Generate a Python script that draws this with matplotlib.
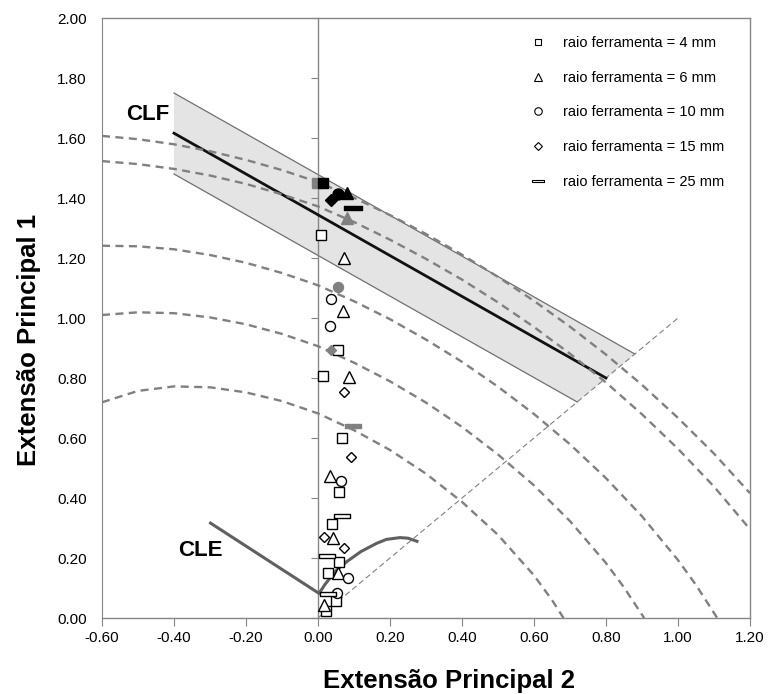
import numpy as np
import matplotlib
matplotlib.use("Agg")
import matplotlib.pyplot as plt
from matplotlib.path import Path
from matplotlib.ticker import MultipleLocator, FormatStrFormatter
from matplotlib.lines import Line2D

plt.rcParams['font.family'] = ['Liberation Sans', 'DejaVu Sans']

# --- data ---
# dashed grey iso-strain curves (e2, e1)
c1_x = [-0.6, -0.5, -0.4, -0.3, -0.2, -0.1, 0.0, 0.1, 0.2, 0.3, 0.4, 0.5, 0.6, 0.7, 0.8, 0.9, 1.0, 1.1, 1.2]
c1_y = [1.607, 1.596, 1.579, 1.556, 1.527, 1.493, 1.453, 1.401, 1.343, 1.280, 1.211, 1.137, 1.057, 0.971, 0.878, 0.777, 0.667, 0.548, 0.416]
c2_x = [-0.6, -0.5, -0.4, -0.3, -0.2, -0.1, 0.0, 0.1, 0.2, 0.3, 0.4, 0.5, 0.6, 0.7, 0.8, 0.9, 1.0, 1.1, 1.2]
c2_y = [1.523, 1.513, 1.497, 1.475, 1.447, 1.412, 1.372, 1.320, 1.261, 1.197, 1.128, 1.052, 0.970, 0.881, 0.785, 0.679, 0.564, 0.438, 0.296]
c3_x = [-0.6, -0.5, -0.4, -0.3, -0.2, -0.1, 0.0, 0.1, 0.2, 0.3, 0.4, 0.5, 0.6, 0.7, 0.8, 0.9, 1.0, 1.05, 1.109]
c3_y = [1.241, 1.239, 1.229, 1.210, 1.184, 1.150, 1.109, 1.056, 0.996, 0.928, 0.854, 0.771, 0.680, 0.579, 0.466, 0.339, 0.193, 0.110, 0.0]
c4_x = [-0.6, -0.5, -0.4, -0.3, -0.2, -0.1, 0.0, 0.1, 0.2, 0.3, 0.4, 0.5, 0.6, 0.7, 0.8, 0.85, 0.906]
c4_y = [1.010, 1.019, 1.016, 1.002, 0.979, 0.947, 0.906, 0.851, 0.789, 0.718, 0.637, 0.545, 0.442, 0.323, 0.183, 0.102, 0.0]
c5_x = [-0.6, -0.5, -0.4, -0.3, -0.2, -0.1, 0.0, 0.1, 0.2, 0.3, 0.4, 0.5, 0.6, 0.65, 0.682]
c5_y = [0.719, 0.757, 0.772, 0.769, 0.752, 0.723, 0.682, 0.626, 0.560, 0.481, 0.387, 0.277, 0.142, 0.060, 0.0]

# CLF line and scatter band
clf_x = [-0.40, 0.80]
clf_y = [1.616, 0.80]
band_up_x = [-0.40, 0.88]
band_up_y = [1.75, 0.88]
band_lo_x = [-0.40, 0.72]
band_lo_y = [1.48, 0.72]

# CLE curve
cle_x = [-0.302, 0.003, 0.02, 0.05, 0.08, 0.12, 0.163, 0.19, 0.228, 0.25, 0.279]
cle_y = [0.319, 0.082, 0.113, 0.158, 0.188, 0.222, 0.249, 0.262, 0.268, 0.266, 0.254]

# 45 deg reference line
diag_x = [0.0, 1.0]
diag_y = [0.0, 1.0]

# measured points per tool radius
r4_x = [0.007, 0.055, 0.013, 0.067, 0.059, 0.040, 0.059, 0.029, 0.050, 0.022]
r4_y = [1.277, 0.893, 0.807, 0.599, 0.421, 0.313, 0.187, 0.149, 0.058, 0.023]
r6_x = [0.073, 0.070, 0.086, 0.033, 0.043, 0.055, 0.018]
r6_y = [1.199, 1.025, 0.802, 0.473, 0.266, 0.151, 0.043]
r10_x = [0.036, 0.033, 0.063, 0.082, 0.052]
r10_y = [1.065, 0.974, 0.458, 0.134, 0.084]
r15_x = [0.073, 0.091, 0.017, 0.073]
r15_y = [0.754, 0.538, 0.271, 0.232]
r25_x = [0.066, 0.026, 0.029]
r25_y = [0.341, 0.208, 0.079]

# necking (grey) and fracture (black) points
neck_x = {'4': [-0.004], '6': [0.080], '10': [0.056], '15': [0.035], '25': [0.098]}
neck_y = {'4': [1.451], '6': [1.332], '10': [1.104], '15': [0.893], '25': [0.640]}
frac_x = {'4': [0.013], '6': [0.080], '10': [0.055], '15': [0.036], '25': [0.098]}
frac_y = {'4': [1.451], '6': [1.418], '10': [1.412], '15': [1.395], '25': [1.366]}

labels = ['raio ferramenta = 4 mm', 'raio ferramenta = 6 mm', 'raio ferramenta = 10 mm',
          'raio ferramenta = 15 mm', 'raio ferramenta = 25 mm']

# flat bar marker for the 25 mm tool
bar = Path([(-1, -0.22), (1, -0.22), (1, 0.22), (-1, 0.22), (-1, -0.22)],
           [Path.MOVETO, Path.LINETO, Path.LINETO, Path.LINETO, Path.CLOSEPOLY])
mk = {'4': ('s', 6.5), '6': ('^', 8.5), '10': ('o', 7.2), '15': ('D', 5.4), '25': (bar, 12)}

GREY = '#808080'
FRAME = '#868686'

fig = plt.figure(figsize=(7.69, 6.94), dpi=100)
ax = fig.add_axes([0.13264, 0.10951, 0.84265, 0.86455])

# band
ax.fill([band_up_x[0], band_up_x[1], band_lo_x[1], band_lo_x[0]],
        [band_up_y[0], band_up_y[1], band_lo_y[1], band_lo_y[0]],
        color='#e4e4e4', lw=0, zorder=1)
ax.plot(band_up_x, band_up_y, color='#707070', lw=0.9, zorder=2)
ax.plot(band_lo_x, band_lo_y, color='#707070', lw=0.9, zorder=2)
ax.plot(clf_x, clf_y, color='#111111', lw=2.0, zorder=3)

for cx, cy in [(c1_x, c1_y), (c2_x, c2_y), (c3_x, c3_y), (c4_x, c4_y), (c5_x, c5_y)]:
    ax.plot(cx, cy, color=GREY, lw=1.7, ls=(0, (3.4, 2.3)), zorder=4)

ax.plot(diag_x, diag_y, color=GREY, lw=0.8, ls=(0, (5, 3)), zorder=2)
ax.plot(cle_x, cle_y, color='#606060', lw=2.2, zorder=3, solid_capstyle='butt')

# scatter
series = [('4', r4_x, r4_y), ('6', r6_x, r6_y), ('10', r10_x, r10_y),
          ('15', r15_x, r15_y), ('25', r25_x, r25_y)]
for key, xs, ys in series:
    m, s = mk[key]
    ax.plot(xs, ys, ls='none', marker=m, ms=s, mfc='white', mec='black', mew=1.0, zorder=5)
for key in ['4', '6', '10', '15', '25']:
    m, s = mk[key]
    ax.plot(neck_x[key], neck_y[key], ls='none', marker=m, ms=s, mfc=GREY, mec=GREY, mew=1.0, zorder=6)
for key in ['10', '15', '6', '25', '4']:
    m, s = mk[key]
    ax.plot(frac_x[key], frac_y[key], ls='none', marker=m, ms=s * 1.1, mfc='black', mec='black', mew=1.0, zorder=7)

ax.text(-0.472, 1.68, 'CLF', fontsize=16, fontweight='bold', ha='center', va='center')
ax.text(-0.326, 0.224, 'CLE', fontsize=16, fontweight='bold', ha='center', va='center')

# axes
ax.set_xlim(-0.6, 1.2)
ax.set_ylim(0, 2.0)
ax.xaxis.set_major_locator(MultipleLocator(0.2))
ax.xaxis.set_major_formatter(FormatStrFormatter('%.2f'))
ax.yaxis.set_major_locator(MultipleLocator(0.2))
ax.spines['left'].set_position(('data', 0))
for sp in ['left', 'right', 'top', 'bottom']:
    ax.spines[sp].set_color(FRAME)
    ax.spines[sp].set_linewidth(1.0)
ax.tick_params(axis='x', direction='out', length=6, color=FRAME, labelsize=11, pad=3)
ax.tick_params(axis='y', direction='out', length=5, color=FRAME, labelleft=False)

sec = ax.secondary_yaxis(0.0)
sec.yaxis.set_major_locator(MultipleLocator(0.2))
sec.yaxis.set_major_formatter(FormatStrFormatter('%.2f'))
sec.tick_params(length=0, pad=11, labelsize=11)
sec.spines['left'].set_color(FRAME)

ax.set_xlabel('Extensão Principal 2', fontsize=18.5, fontweight='bold')
ax.xaxis.set_label_coords(0.535, -0.085)
ax.set_ylabel('Extensão Principal 1', fontsize=18.5, fontweight='bold')
ax.yaxis.set_label_coords(-0.094, 0.463)

handles = []
for key in ['4', '6', '10', '15', '25']:
    m, s = mk[key]
    handles.append(Line2D([], [], ls='none', marker=m, ms=s * 0.75, mfc='white',
                          mec='black', mew=0.8))
ax.legend(handles, labels, loc='upper left', bbox_to_anchor=(0.662, 0.970), frameon=False,
          fontsize=10.5, handlelength=1.0, handletextpad=1.2, labelspacing=1.42,
          borderaxespad=0, borderpad=0)

fig.savefig('out.png', dpi=100)
